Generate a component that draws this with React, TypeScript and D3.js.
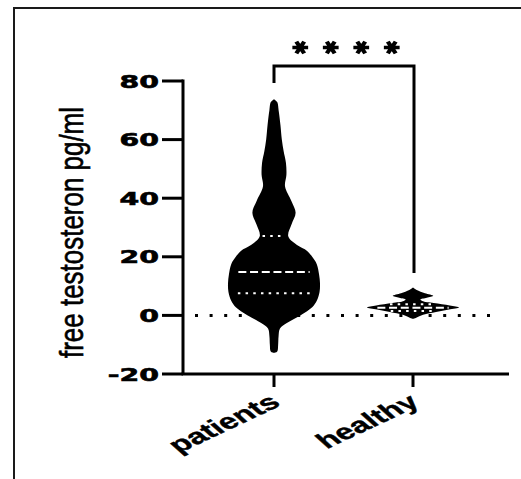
import { useRef, useEffect } from 'react';
import * as d3 from 'd3';

// groups and axis
const categories = ['patients', 'healthy'];
const yTicks = [-20, 0, 20, 40, 60, 80];
const yLabel = 'free testosteron pg/ml';
const significance = '****';

// violin outlines: value grid + relative density (0..1)
const patientsValues = [-12.8, -12.3, -10, -7, -4.5, -2.7, 0, 2.8, 5, 8, 11, 14, 17.5, 20, 22, 24, 27, 31, 35, 39, 44, 48, 52, 56, 60, 65, 70, 72.8, 73.8];
const patientsDensity = [0, 0.07, 0.09, 0.1, 0.13, 0.27, 0.57, 0.83, 0.93, 0.99, 1.0, 0.98, 0.93, 0.83, 0.72, 0.5, 0.31, 0.38, 0.47, 0.38, 0.24, 0.27, 0.26, 0.21, 0.17, 0.14, 0.1, 0.07, 0];
const healthyValues = [-1.2, -0.8, 0.2, 1.2, 2.0, 2.7, 3.4, 4.2, 4.9, 5.4, 6.0, 6.7, 7.6, 8.7, 9.5];
const healthyDensity = [0, 0.07, 0.22, 0.5, 0.78, 1.0, 0.8, 0.45, 0.2, 0.16, 0.3, 0.44, 0.26, 0.08, 0];

// summary lines per group
const medians = [14.8, 2.6];
const lowerQuartiles = [7.6, 1.5];
const upperQuartiles = [27.1, 3.8];

const W = 521;
const H = 479;

const App = () => {
    const ref = useRef(null);

    useEffect(() => {
        const svg = d3.select(ref.current);
        svg.selectAll('*').remove();

        const y = d3.scaleLinear().domain([-20, 80]).range([374, 81]);
        const x = d3.scalePoint().domain(categories).range([274, 413]);
        const w = d3.scaleLinear().domain([0, 1]).range([0, 46]);
        const axisLeft = 183;
        const axisRight = 509;

        // frame
        svg.append('path')
            .attr('d', `M14,${H} V8 H${W}`)
            .attr('fill', 'none')
            .attr('stroke', '#1a1a1a')
            .attr('stroke-width', 2);

        // zero reference line
        svg.append('line')
            .attr('x1', axisLeft + 12).attr('x2', axisRight - 8)
            .attr('y1', y(0)).attr('y2', y(0))
            .attr('stroke', '#000')
            .attr('stroke-width', 3)
            .attr('stroke-dasharray', '3 11.6');

        const groups = [
            { name: 'patients', values: patientsValues, density: patientsDensity },
            { name: 'healthy', values: healthyValues, density: healthyDensity },
        ];

        groups.forEach((g, i) => {
            const cx = x(g.name);
            const pts = g.values.map((v, j) => [v, g.density[j]]);
            const area = d3.area()
                .y(d => y(d[0]))
                .x0(d => cx - w(d[1]))
                .x1(d => cx + w(d[1]))
                .curve(d3.curveCatmullRom.alpha(0.5));
            svg.append('path')
                .attr('d', area(pts))
                .attr('fill', '#000');

            const dens = d3.scaleLinear().domain(g.values).range(g.density);
            const stat = (v, dash) => {
                const hw = w(dens(v)) * 0.8;
                svg.append('line')
                    .attr('x1', cx - hw).attr('x2', cx + hw)
                    .attr('y1', y(v)).attr('y2', y(v))
                    .attr('stroke', '#fff')
                    .attr('stroke-width', 2)
                    .attr('stroke-dasharray', dash);
            };
            stat(medians[i], '8 3.7');
            stat(lowerQuartiles[i], '2.5 5.2');
            stat(upperQuartiles[i], '2.5 5.2');
        });

        // y axis
        const ax = svg.append('g').attr('stroke', '#000').attr('stroke-width', 3);
        ax.append('line')
            .attr('x1', axisLeft).attr('x2', axisLeft)
            .attr('y1', y(-20)).attr('y2', y(80) - 1.5);
        ax.selectAll('.ytick').data(yTicks).enter().append('line')
            .attr('x1', axisLeft - 21).attr('x2', axisLeft)
            .attr('y1', d => y(d)).attr('y2', d => y(d));

        svg.selectAll('.ylab').data(yTicks).enter().append('text')
            .attr('transform', d => `translate(${axisLeft - 24},${y(d) + 6.5}) scale(1.62,1)`)
            .attr('text-anchor', 'end')
            .attr('font-family', 'DejaVu Sans')
            .attr('font-weight', 'bold')
            .attr('font-size', 17.5)
            .attr('stroke', '#000')
            .attr('stroke-width', 0.6)
            .text(d => d);

        // x axis
        ax.append('line')
            .attr('x1', axisLeft - 1.5).attr('x2', axisRight)
            .attr('y1', y(-20)).attr('y2', y(-20));
        ax.selectAll('.xtick').data(categories).enter().append('line')
            .attr('x1', d => x(d)).attr('x2', d => x(d))
            .attr('y1', y(-20)).attr('y2', y(-20) + 13);

        svg.selectAll('.xlab').data(categories).enter().append('text')
            .attr('transform', d => `translate(${x(d) + 8},${y(-20) + 31}) scale(1.55,1) rotate(-36)`)
            .attr('text-anchor', 'end')
            .attr('font-family', 'Liberation Sans')
            .attr('font-weight', 'bold')
            .attr('font-size', 21.5)
            .attr('stroke', '#000')
            .attr('stroke-width', 0.4)
            .text(d => d);

        // y label
        svg.append('text')
            .attr('transform', `translate(83,${(y(-20) + y(80)) / 2 + 5}) scale(1.3,1) rotate(-90)`)
            .attr('text-anchor', 'middle')
            .attr('font-family', 'Liberation Sans')
            .attr('font-size', 26)
            .attr('stroke', '#000')
            .attr('stroke-width', 0.5)
            .attr('textLength', 251)
            .attr('lengthAdjust', 'spacingAndGlyphs')
            .text(yLabel);

        // significance bracket
        const x0 = x('patients');
        const x1 = x('healthy') + 1;
        svg.append('path')
            .attr('d', `M${x0},${y(80) + 2} V66 H${x1} V${y(14.5)}`)
            .attr('fill', 'none')
            .attr('stroke', '#000')
            .attr('stroke-width', 3);

        const stars = significance.split('');
        const mid = (x0 + x1) / 2 + 2;
        const star = d3.symbol().type(d3.symbolAsterisk).size(150);
        svg.selectAll('.star').data(stars).enter().append('path')
            .attr('transform', (d, i) => `translate(${mid + (i - (stars.length - 1) / 2) * 30.5},47.5) rotate(90) scale(0.92,1.08)`)
            .attr('d', star())
            .attr('fill', 'none')
            .attr('stroke', '#000')
            .attr('stroke-width', 4);
    }, []);

    return (
        <svg
            ref={ref}
            width={W}
            height={H}
            style={{ position: 'absolute', left: 0, top: 0, background: '#fff' }}
        />
    );
};

export default App;
